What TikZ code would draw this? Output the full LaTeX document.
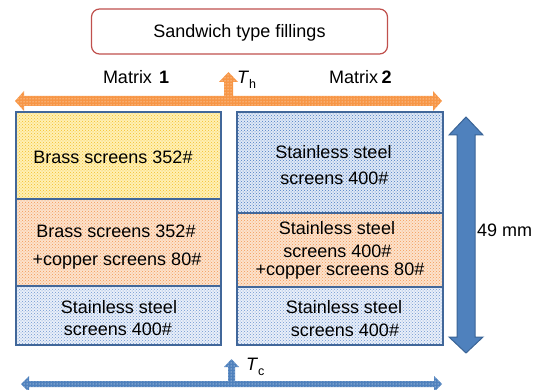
\documentclass[tikz,border=0pt]{standalone}
\usepackage{fontspec}
\setmainfont{Liberation Sans}
\usetikzlibrary{patterns}
\definecolor{orng}{HTML}{F79646}
\definecolor{blu}{HTML}{4F81BD}
\definecolor{bluedge}{HTML}{3A6496}
\definecolor{boxedge}{HTML}{41679A}
\definecolor{titleedge}{HTML}{C0504D}
\definecolor{ybase}{HTML}{FFF0B4}
\definecolor{ydot}{HTML}{F2BE2A}
\definecolor{obase}{HTML}{FCE2CC}
\definecolor{odot}{HTML}{F39A55}
\definecolor{bbase}{HTML}{E9EFF9}
\definecolor{bdot}{HTML}{6E97D0}
\definecolor{bbase2}{HTML}{DFE8F6}
\definecolor{bdot2}{HTML}{4A7CC2}
\begin{document}
\begin{tikzpicture}[x=1pt,y=-1pt,
  every node/.style={inner sep=0pt, outer sep=0pt, font=\fontsize{18}{21}\selectfont},
  lbl/.style={anchor=base},
  boxline/.style={draw=boxedge, line width=1.8pt},
  yellowbox/.style={boxline, preaction={fill=ybase}, pattern=crosshatch dots, pattern color=ydot},
  orangebox/.style={boxline, preaction={fill=obase}, pattern=crosshatch dots, pattern color=odot},
  bluebox/.style={boxline, preaction={fill=bbase}, pattern=crosshatch dots, pattern color=bdot},
  bluebox2/.style={boxline, preaction={fill=bbase2}, pattern=crosshatch dots, pattern color=bdot2},
  hotarrow/.style={preaction={fill=orng}, pattern=dots, pattern color=white},
  coldarrow/.style={preaction={fill=blu}, pattern=dots, pattern color=white}]
\useasboundingbox (0,0) rectangle (537,390);

% title
\node[draw=titleedge, line width=1.2pt, rounded corners=8pt, fill=white,
      minimum width=296pt, minimum height=45pt] (title) at (239.5,31.5) {};
\node[lbl] (titletext) at (239.5,38) {Sandwich type fillings};

% matrix labels
\node[lbl, anchor=base west] (m1) at (103,84) {Matrix\hspace{7pt}\textbf{1}};
\node[lbl, anchor=base west] (m2) at (329,84) {Matrix\hspace{3.5pt}\textbf{2}};

% hot side arrow
\path[hotarrow] (15,101) -- (24,91) -- (24,96) -- (224,96) -- (224,82) -- (219,82)
  -- (228.5,72) -- (238,82) -- (233,82) -- (233,96) -- (433,96) -- (433,91)
  -- (442,101) -- (433,111) -- (433,106) -- (24,106) -- (24,111) -- cycle;
\node[lbl, anchor=base west] (th) at (237,84) {\textit{T}\raisebox{-5pt}{\fontsize{12.5}{13}\selectfont h}};

% left matrix
\path[yellowbox] (16,112) rectangle (221,199);
\path[orangebox] (16,199) rectangle (221,286);
\path[bluebox]   (16,286) rectangle (221,345);
% right matrix
\path[bluebox2]  (237,112) rectangle (443,213);
\path[orangebox] (237,213) rectangle (443,287);
\path[bluebox]   (237,287) rectangle (443,345);

% texts left
\node[lbl] (l1a) at (113,163) {Brass screens 352\#};
\node[lbl] (l2a) at (116,237) {Brass screens 352\#};
\node[lbl] (l2b) at (117,265) {+copper screens 80\#};
\node[lbl] (l3a) at (119,313) {Stainless steel};
\node[lbl] (l3b) at (118,335) {screens 400\#};
% texts right
\node[lbl] (r1a) at (333.5,158) {Stainless steel};
\node[lbl] (r1b) at (334.5,184) {screens 400\#};
\node[lbl] (r2a) at (337,234) {Stainless steel};
\node[lbl] (r2b) at (337.5,257) {screens 400\#};
\node[lbl] (r2c) at (340,275) {+copper screens 80\#};
\node[lbl] (r3a) at (344,313) {Stainless steel};
\node[lbl] (r3b) at (345,336) {screens 400\#};

% height arrow
\draw[fill=blu, draw=bluedge, line width=1pt] (466,117) -- (483,135) -- (475,135) -- (475,337)
  -- (483,337) -- (466,353) -- (449,337) -- (457,337) -- (457,135) -- (449,135) -- cycle;
\node[lbl, anchor=base west] (h) at (477,236) {49 mm};

% cold side arrow
\path[coldarrow] (21,384) -- (29,376) -- (29,381) -- (228,381) -- (228,367) -- (224,367)
  -- (231.5,359) -- (239,367) -- (235,367) -- (235,381) -- (434,381) -- (434,376)
  -- (442,384) -- (434,392) -- (434,387) -- (29,387) -- (29,392) -- cycle;
\node[lbl, anchor=base west] (tc) at (246,370) {\textit{T}\raisebox{-5pt}{\fontsize{12.5}{13}\selectfont c}};
\end{tikzpicture}
\end{document}
